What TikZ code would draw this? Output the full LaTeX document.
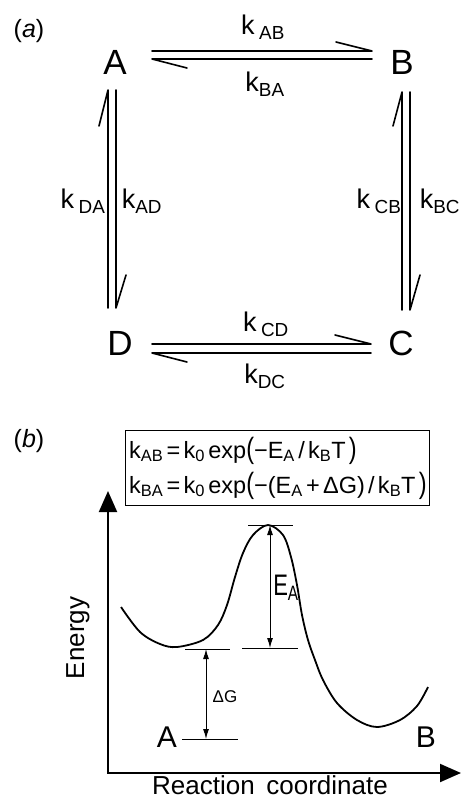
\documentclass[tikz,border=0pt]{standalone}
\usepackage{fontspec}
\setmainfont{Liberation Sans}
\usetikzlibrary{arrows.meta}
\newcommand{\bpar}[1]{\scalebox{1}[1.25]{#1}}
\newcommand{\ts}{\hspace{0.14em}}
\begin{document}
\begin{tikzpicture}[x=1pt,y=-1pt,
  big/.style={font=\fontsize{35}{35}\selectfont, inner sep=0pt},
  rate/.style={font=\fontsize{27}{27}\selectfont, inner sep=0pt},
  tag/.style={font=\fontsize{25}{25}\selectfont, inner sep=0pt},
  eq/.style={font=\fontsize{23.5}{23.5}\selectfont, inner sep=0pt, anchor=base west},
  lbl/.style={font=\fontsize{30}{30}\selectfont, inner sep=0pt},
  ax/.style={font=\fontsize{26}{26}\selectfont, inner sep=0pt},
  rx/.style={line width=1.6pt, line join=round, line cap=round},
  axis/.style={line width=2pt, {Triangle[length=21pt,width=18pt]}-{Triangle[length=21pt,width=18pt]}},
  curve/.style={line width=1.8pt},
  level/.style={line width=1pt},
  dbl/.style={line width=1pt, {Latex[length=10pt,width=6pt]}-{Latex[length=10pt,width=6pt]}}
]
\useasboundingbox (0,0) rectangle (461,798);
% ---------- (a) ----------
\node[tag] (ta) at (29,31) {(\textit{a})};
\node[big] (A) at (115,62) {A};
\node[big] (B) at (402,62) {B};
\node[big] (C) at (401,343) {C};
\node[big] (D) at (120,343) {D};
% A <-> B
\draw[rx] ([shift={(37,-11)}]A.center) -- ([shift={(-30,-11)}]B.center) -- ++(-36,-9);
\draw[rx] ([shift={(-30,-3)}]B.center) -- ([shift={(37,-3)}]A.center) -- ++(35,9);
% D <-> C
\draw[rx] ([shift={(32,1)}]D.center) -- ([shift={(-30,1)}]C.center) -- ++(-36,-9);
\draw[rx] ([shift={(-30,10)}]C.center) -- ([shift={(32,10)}]D.center) -- ++(35,9);
% A <-> D
\draw[rx] ([shift={(-12,-35)}]D.center) -- ([shift={(-7,28)}]A.center) -- ++(-9,36);
\draw[rx] ([shift={(1,28)}]A.center) -- ([shift={(-4,-35)}]D.center) -- ++(10,-33);
% B <-> C
\draw[rx] ([shift={(1,-33)}]C.center) -- ([shift={(0,30)}]B.center) -- ++(-9,34);
\draw[rx] ([shift={(8,30)}]B.center) -- ([shift={(9,-33)}]C.center) -- ++(10,-35);
% rate labels
\node[rate] (kab) at (263,27) {k\,\textsubscript{AB}};
\node[rate] (kba) at (265,84) {k\textsubscript{BA}};
\node[rate] (kda) at (83,201) {k\,\textsubscript{DA}};
\node[rate] (kad) at (142,201) {k\textsubscript{AD}};
\node[rate] (kcb) at (379,201) {k\,\textsubscript{CB}};
\node[rate] (kbc) at (440,201) {k\textsubscript{BC}};
\node[rate] (kcd) at (266,324) {k\,\textsubscript{CD}};
\node[rate] (kdc) at (265,376) {k\textsubscript{DC}};
% ---------- (b) ----------
\node[tag] (tb) at (29,441) {(\textit{b})};
\node[draw, line width=1pt, minimum width=304pt, minimum height=75pt, inner sep=0pt] (eqbox) at (277,467.5) {};
\node[eq] (eq1) at (129,458) {k\textsubscript{AB}\ts=\ts k\textsubscript{0}\ts exp\bpar{(}−E\textsubscript{A}\ts/\ts k\textsubscript{B}T\ts\bpar{)}};
\node[eq] (eq2) at (129,493) {k\textsubscript{BA}\ts=\ts k\textsubscript{0}\ts exp\bpar{(}−(E\textsubscript{A}\ts+\ts ΔG)\ts/\ts k\textsubscript{B}T\ts\bpar{)}};
% axes
\coordinate (O) at (108,773);
\coordinate (ytip) at (108,491);
\coordinate (xtip) at (461,773);
\draw[axis] (ytip) -- (O) -- (xtip);
\node[ax, rotate=90] (energy) at (78,638) {Energy};
\node[ax, anchor=base] (rc) at (270,794) {Reaction\, coordinate};
% energy curve
\draw[curve] plot[smooth, tension=0.55] coordinates {
 (121,607) (140,632) (160,644) (177,647) (203,640) (218,625) (227,605)
 (235,577) (243,553) (253,535) (268,525) (283,535) (291,557) (297,585)
 (302,615) (308,640) (315,660) (323,680) (337,703) (357,720) (377,727)
 (400,720) (417,706) (428,687)};
% levels
\draw[level] (248,525) -- (293,525);
\draw[level] (242,648) -- (298,648);
\draw[level] (185,649) -- (230,649);
\draw[level] (182,739) -- (238,739);
\draw[dbl] (270,525) -- (270,648);
\draw[dbl] (206,649) -- (206,739);
\node[font=\fontsize{22}{22}\selectfont, inner sep=0pt] (ea) at (286,588) {\scalebox{1}[1.35]{E\textsubscript{A}}};
\node[font=\fontsize{17}{17}\selectfont, inner sep=0pt] (dg) at (225,697) {ΔG};
\node[lbl] (la) at (167,737) {A};
\node[lbl] (lb) at (426,737) {B};
\end{tikzpicture}
\end{document}
